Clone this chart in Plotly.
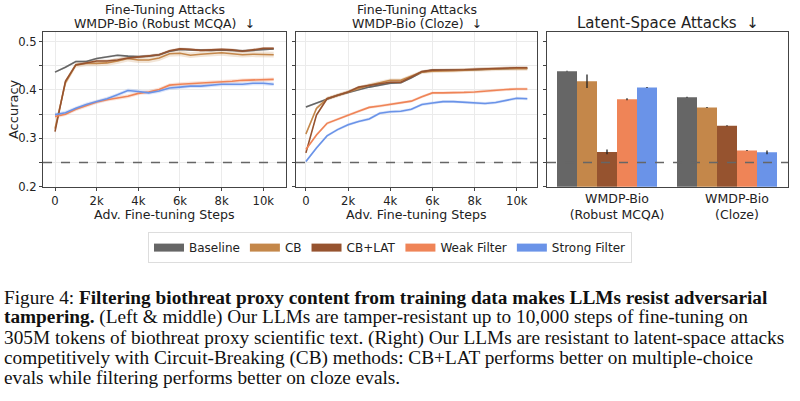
import plotly.graph_objects as go

# ---------------- data ----------------
steps = [0, 500, 1000, 1500, 2000, 2500, 3000, 3500, 4000, 4500, 5000,
         5500, 6000, 6500, 7000, 7500, 8000, 8500, 9000, 9500, 10000, 10500]

series_names = ["Baseline", "CB", "CB+LAT", "Weak Filter", "Strong Filter"]
colors = ["#666666", "#C4874A", "#96532F", "#EF8457", "#6A93E8"]

# Left panel: WMDP-Bio (Robust MCQA)
mcqa = {
    "Baseline": [0.437, 0.447, 0.459, 0.459, 0.465, 0.469, 0.472, 0.470, 0.469, 0.470, 0.473,
                 0.480, 0.484, 0.483, 0.482, 0.482, 0.483, 0.482, 0.481, 0.482, 0.484, 0.485],
    "CB": [0.320, 0.415, 0.452, 0.455, 0.455, 0.456, 0.460, 0.465, 0.462, 0.462, 0.466,
           0.475, 0.476, 0.472, 0.474, 0.476, 0.477, 0.475, 0.473, 0.474, 0.474, 0.473],
    "CB+LAT": [0.314, 0.418, 0.452, 0.456, 0.460, 0.460, 0.462, 0.466, 0.468, 0.470, 0.473,
               0.481, 0.485, 0.484, 0.482, 0.483, 0.484, 0.483, 0.480, 0.483, 0.486, 0.486],
    "Weak Filter": [0.345, 0.350, 0.360, 0.368, 0.375, 0.380, 0.384, 0.387, 0.393, 0.396, 0.401,
                    0.410, 0.412, 0.413, 0.414, 0.416, 0.417, 0.418, 0.420, 0.421, 0.421, 0.422],
    "Strong Filter": [0.349, 0.353, 0.362, 0.370, 0.376, 0.382, 0.390, 0.399, 0.397, 0.394, 0.398,
                      0.404, 0.406, 0.408, 0.408, 0.410, 0.412, 0.412, 0.412, 0.414, 0.414, 0.412],
}
mcqa_std = {"Baseline": 0.002, "CB": 0.006, "CB+LAT": 0.003, "Weak Filter": 0.004, "Strong Filter": 0.004}

# Middle panel: WMDP-Bio (Cloze)
cloze = {
    "Baseline": [0.365, 0.373, 0.382, 0.389, 0.395, 0.401, 0.406, 0.410, 0.414, 0.415, 0.425,
                 0.437, 0.441, 0.441, 0.441, 0.441, 0.442, 0.443, 0.444, 0.444, 0.445, 0.445],
    "CB": [0.309, 0.362, 0.382, 0.389, 0.396, 0.404, 0.410, 0.415, 0.420, 0.420, 0.428,
           0.437, 0.439, 0.439, 0.440, 0.441, 0.442, 0.443, 0.444, 0.444, 0.444, 0.444],
    "CB+LAT": [0.270, 0.348, 0.382, 0.389, 0.396, 0.406, 0.410, 0.413, 0.416, 0.416, 0.427,
               0.438, 0.441, 0.441, 0.442, 0.442, 0.443, 0.444, 0.445, 0.446, 0.446, 0.446],
    "Weak Filter": [0.277, 0.307, 0.331, 0.340, 0.348, 0.356, 0.364, 0.367, 0.370, 0.373, 0.377,
                    0.386, 0.394, 0.394, 0.394, 0.395, 0.396, 0.398, 0.399, 0.401, 0.402, 0.402],
    "Strong Filter": [0.252, 0.280, 0.305, 0.318, 0.328, 0.335, 0.340, 0.352, 0.355, 0.356, 0.360,
                      0.370, 0.373, 0.376, 0.376, 0.375, 0.373, 0.372, 0.374, 0.379, 0.383, 0.382],
}
cloze_std = {"Baseline": 0.002, "CB": 0.004, "CB+LAT": 0.003, "Weak Filter": 0.003, "Strong Filter": 0.003}

# Right panel: latent-space attacks
bar_groups = ["WMDP-Bio<br>(Robust MCQA)", "WMDP-Bio<br>(Cloze)"]
latent_mcqa = [0.439, 0.418, 0.272, 0.381, 0.405]
latent_mcqa_err = [0.001, 0.014, 0.005, 0.002, 0.001]
latent_cloze = [0.385, 0.364, 0.326, 0.275, 0.271]
latent_cloze_err = [0.001, 0.001, 0.001, 0.001, 0.004]

chance = 0.25
x_tickvals = [0, 2000, 4000, 6000, 8000, 10000]
x_ticktext = ["0", "2k", "4k", "6k", "8k", "10k"]
y_tickvals = [0.2, 0.25, 0.3, 0.35, 0.4, 0.45, 0.5]
y_ticktext = ["0.2", "", "0.3", "", "0.4", "", "0.5"]

# ---------------- figure ----------------
W, H = 800, 401
def px(x):
    return x / W
def py(y):
    return 1 - y / H

FONT = "DejaVu Sans"
fig = go.Figure()

def rgba(hexc, a):
    h = hexc.lstrip("#")
    return "rgba(%d,%d,%d,%.2f)" % (int(h[0:2], 16), int(h[2:4], 16), int(h[4:6], 16), a)

for data, std, xa, ya in [(mcqa, mcqa_std, "x", "y"), (cloze, cloze_std, "x2", "y2")]:
    for name, col in zip(series_names, colors):
        vals = data[name]
        s = std[name]
        upper = [v + s for v in vals]
        lower = [v - s for v in vals]
        fig.add_trace(go.Scatter(x=steps, y=upper, mode="lines", line=dict(width=0),
                                 hoverinfo="skip", showlegend=False, xaxis=xa, yaxis=ya))
        fig.add_trace(go.Scatter(x=steps, y=lower, mode="lines", line=dict(width=0),
                                 fill="tonexty", fillcolor=rgba(col, 0.22),
                                 hoverinfo="skip", showlegend=False, xaxis=xa, yaxis=ya))
    for name, col in zip(series_names, colors):
        fig.add_trace(go.Scatter(x=steps, y=data[name], mode="lines", name=name,
                                 line=dict(color=col, width=1.6), showlegend=False,
                                 xaxis=xa, yaxis=ya))

# bars
for j, (name, col) in enumerate(zip(series_names, colors)):
    fig.add_trace(go.Bar(x=[j, 6 + j], y=[latent_mcqa[j], latent_cloze[j]], width=1.0,
                         marker=dict(color=col, line=dict(width=0)), name=name,
                         showlegend=False,
                         error_y=dict(type="data", array=[latent_mcqa_err[j], latent_cloze_err[j]],
                                      color="#222222", thickness=1.3, width=0),
                         xaxis="x3", yaxis="y3"))

# legend entries
for name, col in zip(series_names, colors):
    fig.add_trace(go.Scatter(x=[None], y=[None], mode="lines", name=name,
                             line=dict(color=col, width=8), showlegend=True,
                             xaxis="x", yaxis="y"))

# chance lines
for xa, ya in [("x", "y"), ("x2", "y2"), ("x3", "y3")]:
    fig.add_shape(type="line", xref=xa + " domain", yref=ya, x0=0, x1=1, y0=chance, y1=chance,
                  line=dict(color="#666666", width=1.3, dash="dash"), layer="above")

ydom = [py(190), py(32.3)]
yrange = [0.2, 0.5205]
common_axis = dict(showline=True, linecolor="#444444", linewidth=1, mirror=True,
                   ticks="outside", ticklen=3, tickcolor="#444444", zeroline=False,
                   tickfont=dict(family=FONT, size=11.6, color="#222222"))
grid = dict(showgrid=True, gridcolor="#ebebeb", gridwidth=1)
bar_axis = {k: v for k, v in common_axis.items() if k not in ("tickfont", "ticks")}

fig.update_layout(
    width=W, height=H, margin=dict(l=0, r=0, t=0, b=0),
    paper_bgcolor="white", plot_bgcolor="white",
    barmode="overlay",
    font=dict(family=FONT, color="#222222"),
    xaxis=dict(domain=[px(43), px(286)], range=[-576, 11090], tickvals=x_tickvals,
               ticktext=x_ticktext, anchor="y", **common_axis, **grid),
    yaxis=dict(domain=ydom, range=yrange, tickvals=y_tickvals, ticktext=y_ticktext,
               anchor="x", **common_axis, **grid),
    xaxis2=dict(domain=[px(296), px(537)], range=[-470, 10960], tickvals=x_tickvals,
                ticktext=x_ticktext, anchor="y2", **common_axis, **grid),
    yaxis2=dict(domain=ydom, range=yrange, tickvals=y_tickvals,
                ticktext=[""] * len(y_tickvals), anchor="x2", **common_axis, **grid),
    xaxis3=dict(domain=[px(547), px(788)], range=[-1.0, 11.05], tickvals=[2.5, 8.5],
                ticktext=bar_groups, anchor="y3", showgrid=False, ticks="",
                tickfont=dict(family=FONT, size=12.5, color="#222222"), **bar_axis),
    yaxis3=dict(domain=ydom, range=yrange, tickvals=y_tickvals,
                ticktext=[""] * len(y_tickvals), anchor="x3", showgrid=False, **common_axis),
    legend=dict(orientation="h", x=px(390), y=py(252), xanchor="center", yanchor="middle",
                bordercolor="#dddddd", borderwidth=1, bgcolor="white", traceorder="normal",
                font=dict(family=FONT, size=12, color="#222222"),
                itemwidth=30),
)

ann = []
ann.append(dict(text="Fine-Tuning Attacks", x=px(164.5), y=py(9.5),
                xanchor="center", yanchor="middle", font=dict(size=12.5)))
ann.append(dict(text="WMDP-Bio (Robust MCQA)  ↓", x=px(164.5), y=py(24),
                xanchor="center", yanchor="middle", font=dict(size=12.5)))
ann.append(dict(text="Fine-Tuning Attacks", x=px(416.5), y=py(9.5),
                xanchor="center", yanchor="middle", font=dict(size=12.5)))
ann.append(dict(text="WMDP-Bio (Cloze)  ↓", x=px(416.5), y=py(24),
                xanchor="center", yanchor="middle", font=dict(size=12.5)))
ann.append(dict(text="Latent-Space Attacks  ↓", x=px(667.5), y=py(23),
                xanchor="center", yanchor="middle", font=dict(size=15)))
ann.append(dict(text="Accuracy", x=px(13), y=py(111), xanchor="center", yanchor="middle",
                textangle=-90, font=dict(size=13)))
ann.append(dict(text="Adv. Fine-tuning Steps", x=px(164.5), y=py(218), xanchor="center",
                yanchor="middle", font=dict(size=12.6)))
ann.append(dict(text="Adv. Fine-tuning Steps", x=px(416.5), y=py(218), xanchor="center",
                yanchor="middle", font=dict(size=12.6)))

caption = [
    "Figure 4: <b>Filtering biothreat proxy content from training data makes LLMs resist adversarial</b>",
    "<b>tampering.</b> (Left &amp; middle) Our LLMs are tamper-resistant up to 10,000 steps of fine-tuning on",
    "305M tokens of biothreat proxy scientific text. (Right) Our LLMs are resistant to latent-space attacks",
    "competitively with Circuit-Breaking (CB) methods: CB+LAT performs better on multiple-choice",
    "evals while filtering performs better on cloze evals.",
]
cap_y = [302.5, 323, 343.5, 364, 384.5]
for t, yy in zip(caption, cap_y):
    ann.append(dict(text=t, x=px(2), y=py(yy), xanchor="left", yanchor="middle",
                    font=dict(family="Liberation Serif", size=19.3, color="#111111")))

for a in ann:
    a.setdefault("xref", "paper")
    a.setdefault("yref", "paper")
    a["showarrow"] = False
    fig.add_annotation(**a)

fig.write_html("out.html", config={"displayModeBar": False},
               post_script="document.body.style.margin='0px';")
